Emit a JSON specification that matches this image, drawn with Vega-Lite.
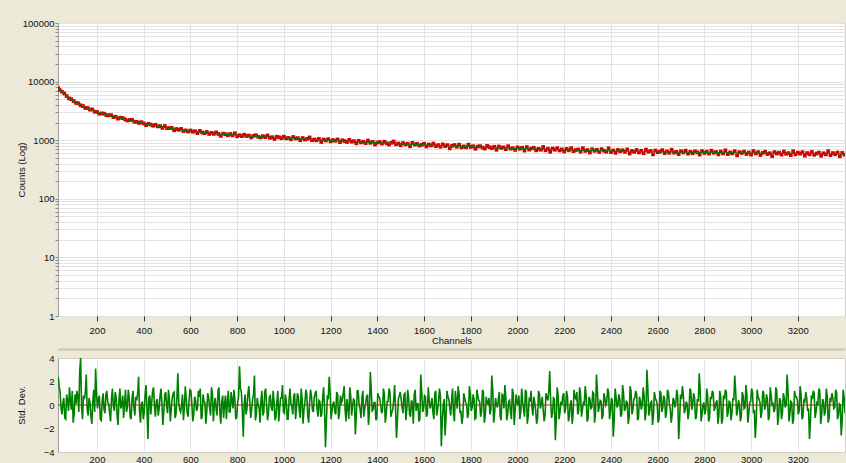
{
  "$schema": "https://vega.github.io/schema/vega-lite/v6.json",
  "background": "#ECE9D8",
  "padding": {"left": 15, "top": 17, "right": 3, "bottom": 0},
  "config": {
    "font": "Liberation Sans",
    "view": {"stroke": "#CFCDC4", "fill": "#FFFFFF"},
    "axis": {
      "labelFont": "Liberation Sans", "labelFontSize": 9.5, "labelColor": "#111111",
      "titleFont": "Liberation Sans", "titleFontSize": 9.5, "titleFontWeight": "normal", "titleColor": "#111111",
      "gridColor": "#E2E2E2", "gridWidth": 1, "domain": false, "labelFlush": false, "labelOverlap": false
    }
  },
  "datasets": {
    "counts": [
      {"c":34,"fit":7660,"n":7711},{"c":40,"fit":7300,"n":7206},{"c":50,"fit":6700,"n":6725},{"c":60,"fit":6150,"n":6260},{"c":70,"fit":5700,"n":5662},
      {"c":80,"fit":5300,"n":5184},{"c":90,"fit":4950,"n":5013},{"c":100,"fit":4650,"n":4657},{"c":110,"fit":4400,"n":4347},{"c":120,"fit":4150,"n":4272},
      {"c":130,"fit":3950,"n":3937},{"c":140,"fit":3780,"n":3823},{"c":150,"fit":3620,"n":3542},{"c":160,"fit":3480,"n":3539},{"c":170,"fit":3350,"n":3327},
      {"c":180,"fit":3230,"n":3349},{"c":190,"fit":3120,"n":3070},{"c":200,"fit":3020,"n":3031},{"c":210,"fit":2925,"n":2833},{"c":220,"fit":2840,"n":2867},
      {"c":230,"fit":2770,"n":2833},{"c":240,"fit":2710,"n":2679},{"c":250,"fit":2655,"n":2655},{"c":260,"fit":2598,"n":2680},{"c":270,"fit":2542,"n":2482},
      {"c":280,"fit":2488,"n":2508},{"c":290,"fit":2436,"n":2337},{"c":300,"fit":2385,"n":2424},{"c":310,"fit":2333,"n":2386},{"c":320,"fit":2283,"n":2269},
      {"c":330,"fit":2234,"n":2168},{"c":340,"fit":2187,"n":2215},{"c":350,"fit":2141,"n":2224},{"c":360,"fit":2097,"n":2065},{"c":370,"fit":2054,"n":2063},
      {"c":380,"fit":2013,"n":1968},{"c":390,"fit":1973,"n":2031},{"c":400,"fit":1935,"n":1931},{"c":410,"fit":1899,"n":1803},{"c":420,"fit":1864,"n":1903},
      {"c":430,"fit":1830,"n":1843},{"c":440,"fit":1798,"n":1764},{"c":450,"fit":1767,"n":1830},{"c":460,"fit":1737,"n":1720},{"c":470,"fit":1708,"n":1737},
      {"c":480,"fit":1680,"n":1618},{"c":490,"fit":1653,"n":1747},{"c":500,"fit":1627,"n":1603},{"c":510,"fit":1602,"n":1606},{"c":520,"fit":1578,"n":1618},
      {"c":530,"fit":1555,"n":1479},{"c":540,"fit":1533,"n":1553},{"c":550,"fit":1512,"n":1504},{"c":560,"fit":1492,"n":1557},{"c":570,"fit":1473,"n":1431},
      {"c":580,"fit":1455,"n":1470},{"c":590,"fit":1437,"n":1402},{"c":600,"fit":1420,"n":1466},{"c":610,"fit":1406,"n":1395},{"c":620,"fit":1392,"n":1422},
      {"c":630,"fit":1379,"n":1319},{"c":640,"fit":1367,"n":1442},{"c":650,"fit":1355,"n":1355},{"c":660,"fit":1343,"n":1317},{"c":670,"fit":1332,"n":1383},
      {"c":680,"fit":1321,"n":1277},{"c":690,"fit":1310,"n":1332},{"c":700,"fit":1300,"n":1282},{"c":710,"fit":1290,"n":1358},{"c":720,"fit":1281,"n":1277},
      {"c":730,"fit":1272,"n":1186},{"c":740,"fit":1263,"n":1295},{"c":750,"fit":1255,"n":1266},{"c":760,"fit":1247,"n":1212},{"c":770,"fit":1239,"n":1278},
      {"c":780,"fit":1231,"n":1210},{"c":790,"fit":1223,"n":1315},{"c":800,"fit":1215,"n":1166},{"c":810,"fit":1208,"n":1215},{"c":820,"fit":1201,"n":1173},
      {"c":830,"fit":1194,"n":1239},{"c":840,"fit":1187,"n":1180},{"c":850,"fit":1180,"n":1204},{"c":860,"fit":1174,"n":1116},{"c":870,"fit":1168,"n":1185},
      {"c":880,"fit":1162,"n":1217},{"c":890,"fit":1156,"n":1142},{"c":900,"fit":1150,"n":1112},{"c":910,"fit":1144,"n":1174},{"c":920,"fit":1138,"n":1128},
      {"c":930,"fit":1133,"n":1204},{"c":940,"fit":1128,"n":1098},{"c":950,"fit":1122,"n":1125},{"c":960,"fit":1117,"n":1050},{"c":970,"fit":1112,"n":1145},
      {"c":980,"fit":1107,"n":1120},{"c":990,"fit":1102,"n":1079},{"c":1000,"fit":1097,"n":1147},{"c":1010,"fit":1091,"n":1074},{"c":1020,"fit":1086,"n":1093},
      {"c":1030,"fit":1080,"n":1037},{"c":1040,"fit":1075,"n":1134},{"c":1050,"fit":1069,"n":1066},{"c":1060,"fit":1064,"n":1084},{"c":1070,"fit":1058,"n":999},
      {"c":1080,"fit":1053,"n":1089},{"c":1090,"fit":1047,"n":1027},{"c":1100,"fit":1042,"n":1052},{"c":1110,"fit":1037,"n":1114},{"c":1120,"fit":1032,"n":1000},
      {"c":1130,"fit":1027,"n":1027},{"c":1140,"fit":1022,"n":996},{"c":1150,"fit":1017,"n":1056},{"c":1160,"fit":1012,"n":932},{"c":1170,"fit":1007,"n":1029},
      {"c":1180,"fit":1002,"n":989},{"c":1190,"fit":997,"n":1042},{"c":1200,"fit":992,"n":954},{"c":1210,"fit":987,"n":1003},{"c":1220,"fit":983,"n":977},
      {"c":1230,"fit":978,"n":1031},{"c":1240,"fit":974,"n":927},{"c":1250,"fit":969,"n":997},{"c":1260,"fit":964,"n":967},{"c":1270,"fit":960,"n":932},
      {"c":1280,"fit":955,"n":1017},{"c":1290,"fit":951,"n":942},{"c":1300,"fit":946,"n":965},{"c":1310,"fit":942,"n":884},{"c":1320,"fit":938,"n":978},
      {"c":1330,"fit":933,"n":915},{"c":1340,"fit":929,"n":941},{"c":1350,"fit":925,"n":891},{"c":1360,"fit":921,"n":988},{"c":1370,"fit":917,"n":902},
      {"c":1380,"fit":912,"n":936},{"c":1390,"fit":908,"n":844},{"c":1400,"fit":904,"n":910},{"c":1410,"fit":900,"n":930},{"c":1420,"fit":896,"n":875},
      {"c":1430,"fit":893,"n":941},{"c":1440,"fit":889,"n":886},{"c":1450,"fit":885,"n":843},{"c":1460,"fit":881,"n":902},{"c":1470,"fit":877,"n":951},
      {"c":1480,"fit":874,"n":850},{"c":1490,"fit":870,"n":879},{"c":1500,"fit":866,"n":819},{"c":1510,"fit":863,"n":895},{"c":1520,"fit":859,"n":847},
      {"c":1530,"fit":856,"n":871},{"c":1540,"fit":852,"n":785},{"c":1550,"fit":849,"n":902},{"c":1560,"fit":846,"n":840},{"c":1570,"fit":842,"n":868},
      {"c":1580,"fit":839,"n":810},{"c":1590,"fit":835,"n":835},{"c":1600,"fit":832,"n":870},{"c":1610,"fit":829,"n":780},{"c":1620,"fit":826,"n":843},
      {"c":1630,"fit":823,"n":814},{"c":1640,"fit":820,"n":877},{"c":1650,"fit":816,"n":790},{"c":1660,"fit":813,"n":824},{"c":1670,"fit":810,"n":773},
      {"c":1680,"fit":807,"n":850},{"c":1690,"fit":804,"n":790},{"c":1700,"fit":801,"n":824},{"c":1710,"fit":798,"n":725},{"c":1720,"fit":795,"n":801},
      {"c":1730,"fit":793,"n":827},{"c":1740,"fit":790,"n":773},{"c":1750,"fit":787,"n":840},{"c":1760,"fit":784,"n":753},{"c":1770,"fit":781,"n":784},
      {"c":1780,"fit":779,"n":757},{"c":1790,"fit":776,"n":840},{"c":1800,"fit":773,"n":767},{"c":1810,"fit":770,"n":789},{"c":1820,"fit":768,"n":715},
      {"c":1830,"fit":765,"n":779},{"c":1840,"fit":763,"n":791},{"c":1850,"fit":760,"n":749},{"c":1860,"fit":758,"n":719},{"c":1870,"fit":755,"n":799},
      {"c":1880,"fit":753,"n":761},{"c":1890,"fit":750,"n":731},{"c":1900,"fit":748,"n":773},{"c":1910,"fit":746,"n":686},{"c":1920,"fit":743,"n":781},
      {"c":1930,"fit":741,"n":738},{"c":1940,"fit":739,"n":755},{"c":1950,"fit":736,"n":703},{"c":1960,"fit":734,"n":791},{"c":1970,"fit":732,"n":718},
      {"c":1980,"fit":730,"n":730},{"c":1990,"fit":727,"n":684},{"c":2000,"fit":725,"n":755},{"c":2010,"fit":723,"n":715},{"c":2020,"fit":721,"n":743},
      {"c":2030,"fit":719,"n":665},{"c":2040,"fit":717,"n":763},{"c":2050,"fit":715,"n":691},{"c":2060,"fit":712,"n":723},{"c":2070,"fit":710,"n":742},
      {"c":2080,"fit":708,"n":671},{"c":2090,"fit":706,"n":711},{"c":2100,"fit":704,"n":688},{"c":2110,"fit":702,"n":766},{"c":2120,"fit":700,"n":673},
      {"c":2130,"fit":699,"n":715},{"c":2140,"fit":697,"n":633},{"c":2150,"fit":695,"n":719},{"c":2160,"fit":693,"n":688},{"c":2170,"fit":691,"n":730},
      {"c":2180,"fit":690,"n":669},{"c":2190,"fit":688,"n":696},{"c":2200,"fit":686,"n":641},{"c":2210,"fit":684,"n":710},{"c":2220,"fit":683,"n":673},
      {"c":2230,"fit":681,"n":731},{"c":2240,"fit":680,"n":651},{"c":2250,"fit":678,"n":681},{"c":2260,"fit":676,"n":694},{"c":2270,"fit":675,"n":636},
      {"c":2280,"fit":673,"n":730},{"c":2290,"fit":672,"n":656},{"c":2300,"fit":670,"n":680},{"c":2310,"fit":669,"n":615},{"c":2320,"fit":667,"n":701},
      {"c":2330,"fit":666,"n":658},{"c":2340,"fit":665,"n":686},{"c":2350,"fit":663,"n":629},{"c":2360,"fit":662,"n":703},{"c":2370,"fit":661,"n":661},
      {"c":2380,"fit":659,"n":636},{"c":2390,"fit":658,"n":727},{"c":2400,"fit":657,"n":626},{"c":2410,"fit":656,"n":669},{"c":2420,"fit":655,"n":609},
      {"c":2430,"fit":653,"n":681},{"c":2440,"fit":652,"n":647},{"c":2450,"fit":651,"n":674},{"c":2460,"fit":650,"n":632},{"c":2470,"fit":649,"n":695},
      {"c":2480,"fit":647,"n":591},{"c":2490,"fit":646,"n":654},{"c":2500,"fit":645,"n":632},{"c":2510,"fit":644,"n":680},{"c":2520,"fit":643,"n":618},
      {"c":2530,"fit":642,"n":657},{"c":2540,"fit":641,"n":600},{"c":2550,"fit":640,"n":691},{"c":2560,"fit":639,"n":636},{"c":2570,"fit":638,"n":656},
      {"c":2580,"fit":637,"n":574},{"c":2590,"fit":636,"n":666},{"c":2600,"fit":635,"n":625},{"c":2610,"fit":634,"n":639},{"c":2620,"fit":633,"n":676},
      {"c":2630,"fit":632,"n":602},{"c":2640,"fit":631,"n":644},{"c":2650,"fit":630,"n":610},{"c":2660,"fit":630,"n":688},{"c":2670,"fit":629,"n":614},
      {"c":2680,"fit":628,"n":631},{"c":2690,"fit":627,"n":579},{"c":2700,"fit":626,"n":649},{"c":2710,"fit":625,"n":617},{"c":2720,"fit":624,"n":662},
      {"c":2730,"fit":624,"n":589},{"c":2740,"fit":623,"n":633},{"c":2750,"fit":622,"n":599},{"c":2760,"fit":621,"n":646},{"c":2770,"fit":620,"n":620},
      {"c":2780,"fit":620,"n":568},{"c":2790,"fit":619,"n":652},{"c":2800,"fit":618,"n":606},{"c":2810,"fit":617,"n":637},{"c":2820,"fit":617,"n":590},
      {"c":2830,"fit":616,"n":663},{"c":2840,"fit":615,"n":610},{"c":2850,"fit":614,"n":629},{"c":2860,"fit":614,"n":572},{"c":2870,"fit":613,"n":640},
      {"c":2880,"fit":612,"n":595},{"c":2890,"fit":612,"n":672},{"c":2900,"fit":611,"n":579},{"c":2910,"fit":610,"n":617},{"c":2920,"fit":610,"n":595},
      {"c":2930,"fit":609,"n":649},{"c":2940,"fit":609,"n":552},{"c":2950,"fit":608,"n":625},{"c":2960,"fit":607,"n":605},{"c":2970,"fit":607,"n":637},
      {"c":2980,"fit":606,"n":581},{"c":2990,"fit":606,"n":618},{"c":3000,"fit":605,"n":568},{"c":3010,"fit":604,"n":653},{"c":3020,"fit":604,"n":594},
      {"c":3030,"fit":603,"n":625},{"c":3040,"fit":603,"n":559},{"c":3050,"fit":602,"n":607},{"c":3060,"fit":601,"n":635},{"c":3070,"fit":601,"n":581},
      {"c":3080,"fit":600,"n":600},{"c":3090,"fit":600,"n":536},{"c":3100,"fit":599,"n":626},{"c":3110,"fit":599,"n":592},{"c":3120,"fit":598,"n":613},
      {"c":3130,"fit":598,"n":569},{"c":3140,"fit":597,"n":641},{"c":3150,"fit":597,"n":585},{"c":3160,"fit":596,"n":603},{"c":3170,"fit":596,"n":557},
      {"c":3180,"fit":595,"n":649},{"c":3190,"fit":595,"n":573},{"c":3200,"fit":594,"n":614},{"c":3210,"fit":594,"n":589},{"c":3220,"fit":593,"n":625},
      {"c":3230,"fit":593,"n":544},{"c":3240,"fit":592,"n":604},{"c":3250,"fit":592,"n":575},{"c":3260,"fit":591,"n":630},{"c":3270,"fit":591,"n":564},
      {"c":3280,"fit":590,"n":592},{"c":3290,"fit":590,"n":614},{"c":3300,"fit":589,"n":543},{"c":3310,"fit":589,"n":599},{"c":3320,"fit":588,"n":573},
      {"c":3330,"fit":588,"n":649},{"c":3340,"fit":587,"n":555},{"c":3350,"fit":587,"n":604},{"c":3360,"fit":586,"n":576},{"c":3370,"fit":586,"n":615},
      {"c":3380,"fit":586,"n":533},{"c":3390,"fit":585,"n":607},{"c":3400,"fit":585,"n":566}
    ],
    "resid": [
      {"c":34,"r":2.4},{"c":42,"r":1.1},{"c":50,"r":-0.8},{"c":58,"r":0.6},{"c":66,"r":-1.2},{"c":74,"r":0.3},{"c":82,"r":1.5},{"c":90,"r":-0.4},{"c":98,"r":-1.5},{"c":106,"r":0.9},
      {"c":114,"r":1.2},{"c":122,"r":-0.6},{"c":130,"r":4.0},{"c":138,"r":-1.2},{"c":146,"r":0.5},{"c":154,"r":2.6},{"c":162,"r":-0.9},{"c":170,"r":0.2},{"c":178,"r":-1.6},{"c":186,"r":1.3},
      {"c":194,"r":3.1},{"c":202,"r":-0.3},{"c":210,"r":0.8},{"c":218,"r":-1.3},{"c":226,"r":1.0},{"c":234,"r":-0.7},{"c":242,"r":1.2},{"c":250,"r":0.1},{"c":258,"r":-1.4},{"c":266,"r":1.4},
      {"c":274,"r":-0.5},{"c":282,"r":0.7},{"c":290,"r":-1.7},{"c":298,"r":1.4},{"c":306,"r":0.0},{"c":314,"r":-1.1},{"c":322,"r":1.3},{"c":330,"r":-0.2},{"c":338,"r":0.6},{"c":346,"r":-1.2},
      {"c":354,"r":1.2},{"c":362,"r":-0.9},{"c":370,"r":0.4},{"c":378,"r":2.4},{"c":386,"r":-1.5},{"c":394,"r":0.3},{"c":402,"r":-0.6},{"c":410,"r":1.7},{"c":418,"r":-2.9},{"c":426,"r":0.8},
      {"c":434,"r":0.2},{"c":442,"r":1.5},{"c":450,"r":-1.0},{"c":458,"r":0.5},{"c":466,"r":-0.3},{"c":474,"r":1.4},{"c":482,"r":-1.7},{"c":490,"r":0.9},{"c":498,"r":-0.1},{"c":506,"r":1.3},
      {"c":514,"r":-1.4},{"c":522,"r":0.6},{"c":530,"r":1.1},{"c":538,"r":-0.8},{"c":546,"r":2.7},{"c":554,"r":-0.4},{"c":562,"r":0.0},{"c":570,"r":-1.3},{"c":578,"r":1.6},{"c":586,"r":-0.7},
      {"c":594,"r":0.4},{"c":602,"r":1.2},{"c":610,"r":-1.4},{"c":618,"r":0.7},{"c":626,"r":-0.5},{"c":634,"r":1.2},{"c":642,"r":1.4},{"c":650,"r":-1.0},{"c":658,"r":0.3},{"c":666,"r":-1.6},
      {"c":674,"r":1.0},{"c":682,"r":-0.2},{"c":690,"r":1.5},{"c":698,"r":-1.4},{"c":706,"r":0.6},{"c":714,"r":-0.9},{"c":722,"r":1.5},{"c":730,"r":-1.6},{"c":738,"r":0.8},{"c":746,"r":0.1},
      {"c":754,"r":-1.2},{"c":762,"r":1.2},{"c":770,"r":-0.6},{"c":778,"r":0.4},{"c":786,"r":1.3},{"c":794,"r":-1.2},{"c":802,"r":0.2},{"c":810,"r":3.3},{"c":818,"r":1.1},{"c":826,"r":-2.7},
      {"c":834,"r":0.9},{"c":842,"r":-0.3},{"c":850,"r":1.6},{"c":858,"r":-1.1},{"c":866,"r":0.5},{"c":874,"r":2.5},{"c":882,"r":-0.8},{"c":890,"r":0.0},{"c":898,"r":-1.5},{"c":906,"r":1.2},
      {"c":914,"r":-0.6},{"c":922,"r":1.4},{"c":930,"r":-1.3},{"c":938,"r":0.7},{"c":946,"r":-0.2},{"c":954,"r":1.2},{"c":962,"r":-1.3},{"c":970,"r":0.3},{"c":978,"r":-1.4},{"c":986,"r":0.6},
      {"c":994,"r":1.7},{"c":1002,"r":-0.7},{"c":1010,"r":0.4},{"c":1018,"r":-1.2},{"c":1026,"r":1.4},{"c":1034,"r":-0.1},{"c":1042,"r":0.8},{"c":1050,"r":-1.2},{"c":1058,"r":1.0},{"c":1066,"r":-0.5},
      {"c":1074,"r":1.4},{"c":1082,"r":-1.6},{"c":1090,"r":0.2},{"c":1098,"r":0.9},{"c":1106,"r":-1.5},{"c":1114,"r":1.3},{"c":1122,"r":-0.4},{"c":1130,"r":0.6},{"c":1138,"r":1.2},{"c":1146,"r":-1.0},
      {"c":1154,"r":0.3},{"c":1162,"r":-0.8},{"c":1170,"r":1.5},{"c":1178,"r":-3.6},{"c":1186,"r":0.7},{"c":1194,"r":2.4},{"c":1202,"r":-1.2},{"c":1210,"r":0.1},{"c":1218,"r":-0.6},{"c":1226,"r":1.1},
      {"c":1234,"r":-1.2},{"c":1242,"r":0.8},{"c":1250,"r":0.4},{"c":1258,"r":1.6},{"c":1266,"r":-1.4},{"c":1274,"r":-0.2},{"c":1282,"r":1.5},{"c":1290,"r":-0.9},{"c":1298,"r":0.5},{"c":1306,"r":-2.5},
      {"c":1314,"r":1.2},{"c":1322,"r":0.0},{"c":1330,"r":-1.1},{"c":1338,"r":1.2},{"c":1346,"r":-0.3},{"c":1354,"r":0.7},{"c":1362,"r":-1.7},{"c":1370,"r":2.8},{"c":1378,"r":-0.5},{"c":1386,"r":0.2},
      {"c":1394,"r":-1.3},{"c":1402,"r":1.0},{"c":1410,"r":0.6},{"c":1418,"r":-0.7},{"c":1426,"r":1.4},{"c":1434,"r":-1.5},{"c":1442,"r":0.3},{"c":1450,"r":1.4},{"c":1458,"r":-1.0},{"c":1466,"r":-0.4},
      {"c":1474,"r":1.7},{"c":1482,"r":-2.8},{"c":1490,"r":0.5},{"c":1498,"r":1.1},{"c":1506,"r":-0.2},{"c":1514,"r":0.9},{"c":1522,"r":-1.3},{"c":1530,"r":1.3},{"c":1538,"r":-0.8},{"c":1546,"r":0.4},
      {"c":1554,"r":-1.6},{"c":1562,"r":1.3},{"c":1570,"r":0.1},{"c":1578,"r":-1.4},{"c":1586,"r":2.6},{"c":1594,"r":-0.6},{"c":1602,"r":0.8},{"c":1610,"r":-1.0},{"c":1618,"r":1.5},{"c":1626,"r":-0.3},
      {"c":1634,"r":0.6},{"c":1642,"r":-1.2},{"c":1650,"r":1.2},{"c":1658,"r":-0.4},{"c":1666,"r":1.4},{"c":1674,"r":-3.5},{"c":1682,"r":0.0},{"c":1690,"r":-2.6},{"c":1698,"r":1.2},{"c":1706,"r":0.5},
      {"c":1714,"r":-0.9},{"c":1722,"r":1.4},{"c":1730,"r":-1.4},{"c":1738,"r":0.3},{"c":1746,"r":1.6},{"c":1754,"r":-0.7},{"c":1762,"r":-1.6},{"c":1770,"r":1.0},{"c":1778,"r":0.2},{"c":1786,"r":-1.1},
      {"c":1794,"r":1.6},{"c":1802,"r":-0.5},{"c":1810,"r":0.9},{"c":1818,"r":-1.2},{"c":1826,"r":1.3},{"c":1834,"r":0.4},{"c":1842,"r":-1.0},{"c":1850,"r":1.3},{"c":1858,"r":-1.5},{"c":1866,"r":0.7},
      {"c":1874,"r":0.1},{"c":1882,"r":-0.8},{"c":1890,"r":2.5},{"c":1898,"r":-1.5},{"c":1906,"r":0.6},{"c":1914,"r":-0.2},{"c":1922,"r":1.1},{"c":1930,"r":-1.3},{"c":1938,"r":0.8},{"c":1946,"r":1.7},
      {"c":1954,"r":-1.3},{"c":1962,"r":0.3},{"c":1970,"r":-0.6},{"c":1978,"r":1.4},{"c":1986,"r":-1.7},{"c":1994,"r":0.9},{"c":2002,"r":0.0},{"c":2010,"r":-1.2},{"c":2018,"r":1.4},{"c":2026,"r":-0.4},
      {"c":2034,"r":1.3},{"c":2042,"r":-1.6},{"c":2050,"r":0.5},{"c":2058,"r":1.2},{"c":2066,"r":-0.9},{"c":2074,"r":0.2},{"c":2082,"r":-1.6},{"c":2090,"r":1.2},{"c":2098,"r":-0.3},{"c":2106,"r":0.7},
      {"c":2114,"r":-1.4},{"c":2122,"r":1.0},{"c":2130,"r":0.4},{"c":2138,"r":2.9},{"c":2146,"r":-1.1},{"c":2154,"r":0.6},{"c":2162,"r":-3.0},{"c":2170,"r":1.5},{"c":2178,"r":-1.2},{"c":2186,"r":0.3},
      {"c":2194,"r":0.8},{"c":2202,"r":-0.7},{"c":2210,"r":1.2},{"c":2218,"r":-1.4},{"c":2226,"r":0.1},{"c":2234,"r":-1.6},{"c":2242,"r":1.3},{"c":2250,"r":0.5},{"c":2258,"r":-0.8},{"c":2266,"r":1.5},
      {"c":2274,"r":-1.0},{"c":2282,"r":0.2},{"c":2290,"r":1.6},{"c":2298,"r":-1.4},{"c":2306,"r":0.7},{"c":2314,"r":-0.3},{"c":2322,"r":1.1},{"c":2330,"r":-1.5},{"c":2338,"r":2.6},{"c":2346,"r":-0.6},
      {"c":2354,"r":0.4},{"c":2362,"r":-1.2},{"c":2370,"r":1.0},{"c":2378,"r":0.0},{"c":2386,"r":1.4},{"c":2394,"r":-1.2},{"c":2402,"r":0.6},{"c":2410,"r":-2.7},{"c":2418,"r":1.4},{"c":2426,"r":-0.2},
      {"c":2434,"r":0.9},{"c":2442,"r":-1.0},{"c":2450,"r":1.7},{"c":2458,"r":-0.5},{"c":2466,"r":0.3},{"c":2474,"r":-1.6},{"c":2482,"r":1.6},{"c":2490,"r":-0.8},{"c":2498,"r":0.5},{"c":2506,"r":1.2},
      {"c":2514,"r":-1.3},{"c":2522,"r":0.7},{"c":2530,"r":-0.4},{"c":2538,"r":1.5},{"c":2546,"r":-1.3},{"c":2554,"r":3.0},{"c":2562,"r":-0.9},{"c":2570,"r":0.2},{"c":2578,"r":-1.7},{"c":2586,"r":1.1},
      {"c":2594,"r":0.4},{"c":2602,"r":-1.5},{"c":2610,"r":1.2},{"c":2618,"r":-0.6},{"c":2626,"r":0.8},{"c":2634,"r":-1.1},{"c":2642,"r":1.3},{"c":2650,"r":0.1},{"c":2658,"r":-1.5},{"c":2666,"r":0.6},
      {"c":2674,"r":-0.2},{"c":2682,"r":1.3},{"c":2690,"r":-2.9},{"c":2698,"r":0.9},{"c":2706,"r":1.6},{"c":2714,"r":-0.7},{"c":2722,"r":0.3},{"c":2730,"r":-1.2},{"c":2738,"r":1.4},{"c":2746,"r":-0.4},
      {"c":2754,"r":1.0},{"c":2762,"r":-1.2},{"c":2770,"r":0.5},{"c":2778,"r":2.7},{"c":2786,"r":-1.4},{"c":2794,"r":0.0},{"c":2802,"r":-0.8},{"c":2810,"r":1.4},{"c":2818,"r":-1.4},{"c":2826,"r":0.7},
      {"c":2834,"r":1.2},{"c":2842,"r":-0.5},{"c":2850,"r":0.2},{"c":2858,"r":-1.6},{"c":2866,"r":1.2},{"c":2874,"r":-1.6},{"c":2882,"r":0.8},{"c":2890,"r":1.3},{"c":2898,"r":-1.0},{"c":2906,"r":0.3},
      {"c":2914,"r":-1.3},{"c":2922,"r":0.6},{"c":2930,"r":2.5},{"c":2938,"r":-0.9},{"c":2946,"r":0.4},{"c":2954,"r":-1.4},{"c":2962,"r":1.1},{"c":2970,"r":-0.3},{"c":2978,"r":1.7},{"c":2986,"r":-1.5},
      {"c":2994,"r":0.2},{"c":3002,"r":1.4},{"c":3010,"r":-0.7},{"c":3018,"r":-2.8},{"c":3026,"r":1.3},{"c":3034,"r":0.5},{"c":3042,"r":-1.1},{"c":3050,"r":1.2},{"c":3058,"r":-0.4},{"c":3066,"r":0.9},
      {"c":3074,"r":-1.3},{"c":3082,"r":1.5},{"c":3090,"r":0.0},{"c":3098,"r":-0.6},{"c":3106,"r":1.5},{"c":3114,"r":-1.7},{"c":3122,"r":0.6},{"c":3130,"r":-1.2},{"c":3138,"r":1.0},{"c":3146,"r":-0.2},
      {"c":3154,"r":2.6},{"c":3162,"r":-1.4},{"c":3170,"r":0.3},{"c":3178,"r":-1.6},{"c":3186,"r":1.2},{"c":3194,"r":0.7},{"c":3202,"r":-0.8},{"c":3210,"r":1.6},{"c":3218,"r":-1.2},{"c":3226,"r":0.4},
      {"c":3234,"r":1.1},{"c":3242,"r":-0.5},{"c":3250,"r":-2.9},{"c":3258,"r":0.8},{"c":3266,"r":1.2},{"c":3274,"r":-1.1},{"c":3282,"r":0.2},{"c":3290,"r":1.4},{"c":3298,"r":-1.6},{"c":3306,"r":0.5},
      {"c":3314,"r":-0.9},{"c":3322,"r":1.4},{"c":3330,"r":-1.5},{"c":3338,"r":0.6},{"c":3346,"r":1.0},{"c":3354,"r":-0.3},{"c":3362,"r":1.3},{"c":3370,"r":-1.2},{"c":3378,"r":0.1},{"c":3386,"r":-2.6},
      {"c":3394,"r":1.3},{"c":3402,"r":-0.7},
      {"c":38,"r":1.6},{"c":46,"r":-0.3},{"c":54,"r":0.2},{"c":62,"r":-1.1},{"c":70,"r":0.9},{"c":78,"r":-0.5},{"c":86,"r":0.4},{"c":94,"r":1.2},{"c":102,"r":-0.8},{"c":110,"r":0.1},
      {"c":118,"r":0.7},{"c":126,"r":2.9},{"c":134,"r":-0.2},{"c":142,"r":0.8},{"c":150,"r":1.1},{"c":158,"r":-0.4},{"c":166,"r":0.6},{"c":174,"r":-1.0},{"c":182,"r":0.3},{"c":190,"r":-0.6},
      {"c":198,"r":1.0},{"c":206,"r":0.5},{"c":214,"r":-1.2},{"c":222,"r":0.3},{"c":230,"r":-0.4},{"c":238,"r":0.9},{"c":246,"r":0.2},{"c":254,"r":-0.7},{"c":262,"r":0.6},{"c":270,"r":-0.1},
      {"c":278,"r":1.1},{"c":286,"r":-0.9},{"c":294,"r":0.4},{"c":302,"r":-0.3},{"c":310,"r":0.8},{"c":318,"r":0.2},{"c":326,"r":-0.6},{"c":334,"r":1.3},{"c":342,"r":-1.0},{"c":350,"r":0.5},
      {"c":358,"r":-0.2},{"c":366,"r":0.7},{"c":374,"r":1.0},{"c":382,"r":-0.5},{"c":390,"r":0.1},{"c":398,"r":-1.2},{"c":406,"r":0.9},{"c":414,"r":-0.4},{"c":422,"r":0.6},{"c":430,"r":-0.8},
      {"c":438,"r":1.2},{"c":446,"r":-0.1},{"c":454,"r":0.3},{"c":462,"r":-0.9},{"c":470,"r":0.8},{"c":478,"r":0.0},{"c":486,"r":-0.5},{"c":494,"r":1.1},{"c":502,"r":-0.7},{"c":510,"r":0.4},
      {"c":518,"r":-0.3},{"c":526,"r":1.0},{"c":534,"r":-1.1},{"c":542,"r":0.6},{"c":550,"r":0.2},{"c":558,"r":-0.6},{"c":566,"r":0.9},{"c":574,"r":-0.2},{"c":582,"r":0.5},{"c":590,"r":-1.0},
      {"c":598,"r":1.3},{"c":606,"r":0.1},{"c":614,"r":-0.8},{"c":622,"r":0.4},{"c":630,"r":-0.3},{"c":638,"r":0.7},{"c":646,"r":-1.2},{"c":654,"r":0.9},{"c":662,"r":0.2},{"c":670,"r":-0.5},
      {"c":678,"r":0.6},{"c":686,"r":-0.9},{"c":694,"r":1.0},{"c":702,"r":0.0},{"c":710,"r":-0.4},{"c":718,"r":1.2},{"c":726,"r":-0.7},{"c":734,"r":0.3},{"c":742,"r":-1.1},{"c":750,"r":0.8},
      {"c":758,"r":0.2},{"c":766,"r":-0.6},{"c":774,"r":1.1},{"c":782,"r":-0.3},{"c":790,"r":0.5},{"c":798,"r":-1.0},{"c":806,"r":0.7},{"c":814,"r":1.4},{"c":822,"r":-0.5},{"c":830,"r":0.1},
      {"c":838,"r":-0.8},{"c":846,"r":1.0},{"c":854,"r":0.3},{"c":862,"r":-0.4},{"c":870,"r":0.9},{"c":878,"r":-1.3},{"c":886,"r":0.6},{"c":894,"r":-0.2},{"c":902,"r":0.4},{"c":910,"r":-0.9},
      {"c":918,"r":1.1},{"c":926,"r":0.0},{"c":934,"r":-0.7},{"c":942,"r":0.8},{"c":950,"r":-0.5},{"c":958,"r":0.2},{"c":966,"r":-1.0},{"c":974,"r":1.2},{"c":982,"r":-0.3},{"c":990,"r":0.6},
      {"c":998,"r":-0.6},{"c":1006,"r":0.9},{"c":1014,"r":-1.2},{"c":1022,"r":0.4},{"c":1030,"r":0.1},{"c":1038,"r":-0.8},{"c":1046,"r":1.0},{"c":1054,"r":-0.2},{"c":1062,"r":0.7},{"c":1070,"r":-1.1},
      {"c":1078,"r":0.5},{"c":1086,"r":-0.4},{"c":1094,"r":1.3},{"c":1102,"r":-0.9},{"c":1110,"r":0.2},{"c":1118,"r":0.8},{"c":1126,"r":-0.6},{"c":1134,"r":1.0},{"c":1142,"r":-0.3},{"c":1150,"r":0.4},
      {"c":1158,"r":-1.0},{"c":1166,"r":0.7},{"c":1174,"r":-0.2},{"c":1182,"r":-1.4},{"c":1190,"r":0.6},{"c":1198,"r":1.1},{"c":1206,"r":-0.5},{"c":1214,"r":0.3},{"c":1222,"r":-0.8},{"c":1230,"r":0.9},
      {"c":1238,"r":-0.7},{"c":1246,"r":0.2},{"c":1254,"r":1.0},{"c":1262,"r":-0.4},{"c":1270,"r":0.5},{"c":1278,"r":-1.2},{"c":1286,"r":0.8},{"c":1294,"r":-0.1},{"c":1302,"r":0.4},{"c":1310,"r":-0.9},
      {"c":1318,"r":1.2},{"c":1326,"r":-0.3},{"c":1334,"r":0.6},{"c":1342,"r":-1.0},{"c":1350,"r":0.1},{"c":1358,"r":0.9},{"c":1366,"r":-0.6},{"c":1374,"r":1.3},{"c":1382,"r":-0.4},{"c":1390,"r":0.2},
      {"c":1398,"r":-1.1},{"c":1406,"r":0.7},{"c":1414,"r":0.0},{"c":1422,"r":-0.5},{"c":1430,"r":1.0},{"c":1438,"r":-0.8},{"c":1446,"r":0.3},{"c":1454,"r":1.1},{"c":1462,"r":-0.6},{"c":1470,"r":0.4},
      {"c":1478,"r":-0.2},{"c":1486,"r":-1.3},{"c":1494,"r":0.8},{"c":1502,"r":0.5},{"c":1510,"r":-0.7},{"c":1518,"r":1.0},{"c":1526,"r":-0.4},{"c":1534,"r":0.6},{"c":1542,"r":-1.0},{"c":1550,"r":0.2},
      {"c":1558,"r":0.9},{"c":1566,"r":-0.5},{"c":1574,"r":0.1},{"c":1582,"r":-1.2},{"c":1590,"r":1.1},{"c":1598,"r":-0.3},{"c":1606,"r":0.7},{"c":1614,"r":-0.8},{"c":1622,"r":0.4},{"c":1630,"r":0.0},
      {"c":1638,"r":-0.6},{"c":1646,"r":1.0},{"c":1654,"r":-0.9},{"c":1662,"r":0.3},{"c":1670,"r":0.8},{"c":1678,"r":-1.4},{"c":1686,"r":0.5},{"c":1694,"r":-1.1},{"c":1702,"r":0.7},{"c":1710,"r":-0.2},
      {"c":1718,"r":0.4},{"c":1726,"r":-0.7},{"c":1734,"r":1.2},{"c":1742,"r":-0.3},{"c":1750,"r":0.9},{"c":1758,"r":-0.5},{"c":1766,"r":-1.0},{"c":1774,"r":0.6},{"c":1782,"r":0.1},{"c":1790,"r":-0.8},
      {"c":1798,"r":1.0},{"c":1806,"r":-0.2},{"c":1814,"r":0.5},{"c":1822,"r":-1.1},{"c":1830,"r":0.8},{"c":1838,"r":0.3},{"c":1846,"r":-0.6},{"c":1854,"r":1.1},{"c":1862,"r":-0.9},{"c":1870,"r":0.2},
      {"c":1878,"r":0.6},{"c":1886,"r":-0.4},{"c":1894,"r":1.3},{"c":1902,"r":-0.7},{"c":1910,"r":0.0},{"c":1918,"r":0.5},{"c":1926,"r":-1.0},{"c":1934,"r":0.9},{"c":1942,"r":-0.3},{"c":1950,"r":0.7},
      {"c":1958,"r":-0.8},{"c":1966,"r":0.4},{"c":1974,"r":-1.2},{"c":1982,"r":1.0},{"c":1990,"r":-0.5},{"c":1998,"r":0.2},{"c":2006,"r":0.8},{"c":2014,"r":-0.6},{"c":2022,"r":0.3},{"c":2030,"r":-1.0},
      {"c":2038,"r":1.1},{"c":2046,"r":-0.9},{"c":2054,"r":0.4},{"c":2062,"r":-0.2},{"c":2070,"r":0.7},{"c":2078,"r":-0.5},{"c":2086,"r":-1.1},{"c":2094,"r":0.9},{"c":2102,"r":0.1},{"c":2110,"r":-0.4},
      {"c":2118,"r":-0.9},{"c":2126,"r":0.6},{"c":2134,"r":1.2},{"c":2142,"r":0.3},{"c":2150,"r":-0.7},{"c":2158,"r":0.5},{"c":2166,"r":-1.3},{"c":2174,"r":0.8},{"c":2182,"r":-0.6},{"c":2190,"r":0.0},
      {"c":2198,"r":1.0},{"c":2206,"r":-0.3},{"c":2214,"r":0.7},{"c":2222,"r":-1.0},{"c":2230,"r":0.4},{"c":2238,"r":-0.8},{"c":2246,"r":0.6},{"c":2254,"r":1.1},{"c":2262,"r":-0.5},{"c":2270,"r":0.9},
      {"c":2278,"r":-0.4},{"c":2286,"r":0.1},{"c":2294,"r":0.8},{"c":2302,"r":-1.2},{"c":2310,"r":0.5},{"c":2318,"r":-0.2},{"c":2326,"r":1.0},{"c":2334,"r":-0.7},{"c":2342,"r":1.3},{"c":2350,"r":-0.1},
      {"c":2358,"r":0.3},{"c":2366,"r":-0.9},{"c":2374,"r":0.6},{"c":2382,"r":0.2},{"c":2390,"r":1.1},{"c":2398,"r":-0.6},{"c":2406,"r":0.4},{"c":2414,"r":-1.3},{"c":2422,"r":0.7},{"c":2430,"r":0.0},
      {"c":2438,"r":0.5},{"c":2446,"r":-0.8},{"c":2454,"r":1.0},{"c":2462,"r":-0.3},{"c":2470,"r":0.2},{"c":2478,"r":-1.0},{"c":2486,"r":1.2},{"c":2494,"r":-0.4},{"c":2502,"r":0.6},{"c":2510,"r":0.9},
      {"c":2518,"r":-1.1},{"c":2526,"r":0.4},{"c":2534,"r":0.0},{"c":2542,"r":0.8},{"c":2550,"r":-0.7},{"c":2558,"r":1.4},{"c":2566,"r":-0.5},{"c":2574,"r":0.3},{"c":2582,"r":-0.9},{"c":2590,"r":0.6},
      {"c":2598,"r":0.1},{"c":2606,"r":-1.2},{"c":2614,"r":1.0},{"c":2622,"r":-0.2},{"c":2630,"r":0.5},{"c":2638,"r":-0.6},{"c":2646,"r":1.1},{"c":2654,"r":-0.3},{"c":2662,"r":-0.8},{"c":2670,"r":0.4},
      {"c":2678,"r":0.2},{"c":2686,"r":0.7},{"c":2694,"r":-1.3},{"c":2702,"r":0.5},{"c":2710,"r":0.9},{"c":2718,"r":-0.4},{"c":2726,"r":0.1},{"c":2734,"r":-0.7},{"c":2742,"r":1.2},{"c":2750,"r":0.0},
      {"c":2758,"r":0.6},{"c":2766,"r":-1.0},{"c":2774,"r":0.3},{"c":2782,"r":1.3},{"c":2790,"r":-0.8},{"c":2798,"r":0.2},{"c":2806,"r":-0.4},{"c":2814,"r":0.8},{"c":2822,"r":-1.1},{"c":2830,"r":0.5},
      {"c":2838,"r":1.0},{"c":2846,"r":-0.2},{"c":2854,"r":0.4},{"c":2862,"r":-0.9},{"c":2870,"r":0.7},{"c":2878,"r":-1.2},{"c":2886,"r":0.5},{"c":2894,"r":1.1},{"c":2902,"r":-0.6},{"c":2910,"r":0.2},
      {"c":2918,"r":-0.7},{"c":2926,"r":0.4},{"c":2934,"r":1.2},{"c":2942,"r":-0.5},{"c":2950,"r":0.1},{"c":2958,"r":-1.0},{"c":2966,"r":0.8},{"c":2974,"r":-0.2},{"c":2982,"r":0.9},{"c":2990,"r":-0.8},
      {"c":2998,"r":0.3},{"c":3006,"r":1.1},{"c":3014,"r":-0.4},{"c":3022,"r":-1.3},{"c":3030,"r":0.7},{"c":3038,"r":0.2},{"c":3046,"r":-0.6},{"c":3054,"r":1.0},{"c":3062,"r":-0.1},{"c":3070,"r":0.5},
      {"c":3078,"r":-1.0},{"c":3086,"r":0.8},{"c":3094,"r":0.1},{"c":3102,"r":-0.3},{"c":3110,"r":1.2},{"c":3118,"r":-0.9},{"c":3126,"r":0.4},{"c":3134,"r":-0.7},{"c":3142,"r":0.6},{"c":3150,"r":0.0},
      {"c":3158,"r":1.3},{"c":3166,"r":-0.8},{"c":3174,"r":0.2},{"c":3182,"r":-1.2},{"c":3190,"r":0.7},{"c":3198,"r":0.4},{"c":3206,"r":-0.5},{"c":3214,"r":0.9},{"c":3222,"r":-1.0},{"c":3230,"r":0.3},
      {"c":3238,"r":0.6},{"c":3246,"r":-0.3},{"c":3254,"r":-1.4},{"c":3262,"r":0.5},{"c":3270,"r":1.0},{"c":3278,"r":-0.6},{"c":3286,"r":0.1},{"c":3294,"r":1.2},{"c":3302,"r":-0.9},{"c":3310,"r":0.3},
      {"c":3318,"r":-0.5},{"c":3326,"r":0.8},{"c":3334,"r":-1.1},{"c":3342,"r":0.4},{"c":3350,"r":0.6},{"c":3358,"r":-0.2},{"c":3366,"r":1.1},{"c":3374,"r":-0.9},{"c":3382,"r":0.0},{"c":3390,"r":-1.3},
      {"c":3398,"r":0.7}
    ]
  },
  "bounds": "flush",
  "spacing": 42,
  "resolve": {"scale": {"x": "independent", "y": "independent"}},
  "vconcat": [
    {
      "width": 787,
      "height": 293,
      "data": {"name": "counts"},
      "layer": [
        {
          "mark": {"type": "square", "size": 14, "color": "#D40000", "opacity": 1, "clip": true},
          "encoding": {
            "x": {
              "field": "c", "type": "quantitative",
              "scale": {"domain": [33, 3402], "nice": false, "zero": false},
              "axis": {
                "values": [200,400,600,800,1000,1200,1400,1600,1800,2000,2200,2400,2600,2800,3000,3200],
                "format": "d", "title": "Channels", "grid": true, "tickSize": 5, "tickColor": "#333333",
                "labelPadding": 4, "titlePadding": 1
              }
            },
            "y": {
              "field": "n", "type": "quantitative",
              "scale": {"type": "log", "domain": [1, 100000], "nice": false},
              "axis": {
                "values": [1,2,3,4,5,6,7,8,9,10,20,30,40,50,60,70,80,90,100,200,300,400,500,600,700,800,900,1000,2000,3000,4000,5000,6000,7000,8000,9000,10000,20000,30000,40000,50000,60000,70000,80000,90000,100000],
                "format": "d",
                "labelExpr": "indexof([1,10,100,1000,10000,100000], datum.value) >= 0 ? datum.label : ''",
                "title": "Counts (Log)", "titleX": -37, "titleY": 146.5, "titleAngle": -90,
                "titleBaseline": "middle", "titleAlign": "center",
                "grid": true, "tickSize": 3, "tickColor": "#8A8A8A", "labelPadding": 1,
                "domain": true, "domainColor": "#9C9C9C"
              }
            }
          }
        },
        {
          "mark": {"type": "line", "color": "#0A7A0A", "strokeWidth": 1.1, "clip": true},
          "encoding": {
            "x": {"field": "c", "type": "quantitative"},
            "y": {"field": "fit", "type": "quantitative"}
          }
        }
      ]
    },
    {
      "width": 787,
      "height": 94,
      "layer": [
        {
          "data": {"values": [{}]},
          "mark": {"type": "rule", "color": "#FF0000", "strokeWidth": 1},
          "encoding": {
            "x": {
              "datum": 33, "type": "quantitative",
              "scale": {"domain": [33, 3402], "nice": false, "zero": false},
              "axis": {"orient": "top", "offset": 9, "domain": true, "domainColor": "#C9C5B8", "domainWidth": 2, "labels": false, "ticks": false, "grid": false, "title": null}
            },
            "x2": {"datum": 3402},
            "y": {
              "datum": 0, "type": "quantitative",
              "scale": {"domain": [-4, 4], "nice": false, "zero": false},
              "axis": {
                "values": [-4,-2,0,2,4], "title": "Std. Dev.", "titleX": -37, "titleY": 47, "titleAngle": -90,
                "titleBaseline": "middle", "titleAlign": "center",
                "grid": false, "ticks": false, "labelPadding": 4,
                "domain": true, "domainColor": "#9C9C9C"
              }
            }
          }
        },
        {
          "data": {"name": "resid"},
          "mark": {"type": "line", "color": "#008000", "strokeWidth": 1.6, "clip": true},
          "encoding": {
            "x": {
              "field": "c", "type": "quantitative",
              "axis": {
                "orient": "bottom",
                "values": [200,400,600,800,1000,1200,1400,1600,1800,2000,2200,2400,2600,2800,3000,3200],
                "format": "d", "title": null, "grid": true, "ticks": false, "labelPadding": 2
              }
            },
            "y": {
              "field": "r", "type": "quantitative",
              "scale": {"domain": [-4, 4], "nice": false, "zero": false},
              "axis": {
                "values": [-4,-2,0,2,4], "title": "Std. Dev.", "titleX": -37, "titleY": 47, "titleAngle": -90,
                "titleBaseline": "middle", "titleAlign": "center",
                "grid": false, "ticks": false, "labelPadding": 4,
                "domain": true, "domainColor": "#9C9C9C"
              }
            }
          }
        }
      ],
      "resolve": {"axis": {"x": "independent"}}
    }
  ]
}
